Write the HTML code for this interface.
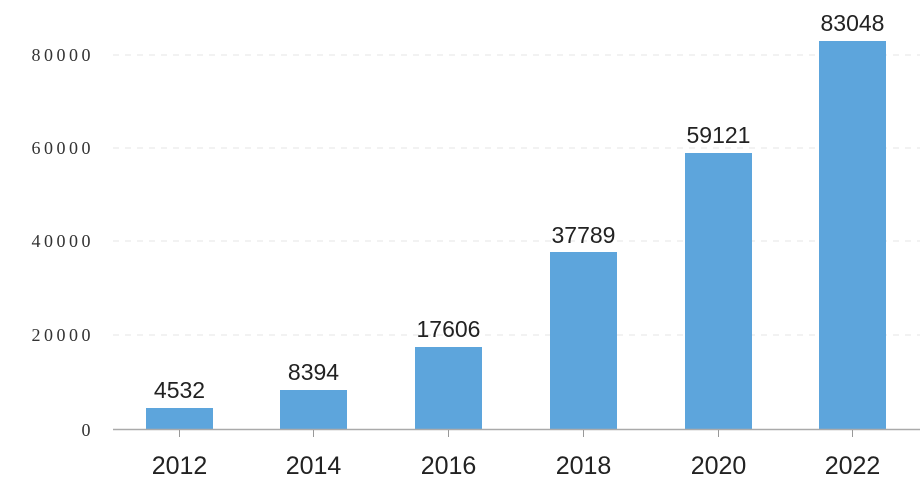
<!DOCTYPE html>
<html><head><meta charset="utf-8"><style>body{margin:0;background:#fff}svg{display:block}</style></head>
<body>
<svg width="920" height="483" viewBox="0 0 920 483" xmlns="http://www.w3.org/2000/svg">
<g stroke="#e6e6e6" stroke-width="1" stroke-dasharray="6,6">
<line x1="113" y1="55" x2="920" y2="55"/>
<line x1="113" y1="148" x2="920" y2="148"/>
<line x1="113" y1="241" x2="920" y2="241"/>
<line x1="113" y1="335" x2="920" y2="335"/>
</g>
<g font-family="Liberation Serif, serif" font-size="18" fill="#333" text-anchor="end" letter-spacing="3.5">
<text x="94" y="61">80000</text>
<text x="94" y="154">60000</text>
<text x="94" y="247">40000</text>
<text x="94" y="341">20000</text>
<text x="94" y="436">0</text>
</g>
<g fill="#5da5dc">
<rect x="146" y="408" width="67" height="21"/>
<rect x="280" y="390" width="67" height="39"/>
<rect x="415" y="347" width="67" height="82"/>
<rect x="550" y="252" width="67" height="177"/>
<rect x="685" y="153" width="67" height="276"/>
<rect x="819" y="41" width="67" height="388"/>
</g>
<line x1="113" y1="429.5" x2="920" y2="429.5" stroke="#aaa" stroke-width="1.5"/>
<g stroke="#999" stroke-width="1">
<line x1="179.5" y1="430" x2="179.5" y2="437"/>
<line x1="313.5" y1="430" x2="313.5" y2="437"/>
<line x1="448.5" y1="430" x2="448.5" y2="437"/>
<line x1="583.5" y1="430" x2="583.5" y2="437"/>
<line x1="718.5" y1="430" x2="718.5" y2="437"/>
<line x1="852.5" y1="430" x2="852.5" y2="437"/>
</g>
<g font-family="Liberation Sans, sans-serif" font-size="23" fill="#222" text-anchor="middle">
<text x="179.5" y="398">4532</text>
<text x="313.5" y="380">8394</text>
<text x="448.5" y="337">17606</text>
<text x="583.5" y="243">37789</text>
<text x="718.5" y="143">59121</text>
<text x="852.5" y="31">83048</text>
</g>
<g font-family="Liberation Sans, sans-serif" font-size="25" fill="#222" text-anchor="middle">
<text x="179.5" y="474">2012</text>
<text x="313.5" y="474">2014</text>
<text x="448.5" y="474">2016</text>
<text x="583.5" y="474">2018</text>
<text x="718.5" y="474">2020</text>
<text x="852.5" y="474">2022</text>
</g>
</svg>
</body></html>
